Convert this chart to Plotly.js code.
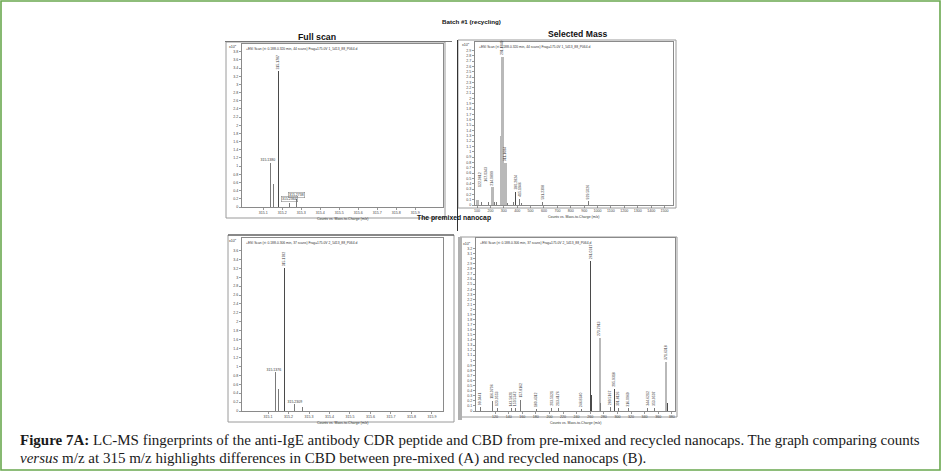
<!DOCTYPE html>
<html>
<head>
<meta charset="utf-8">
<script src="https://cdn.plot.ly/plotly-3.0.1.min.js"></script>
<style>
  html, body { margin: 0; padding: 0; background: #fff; }
  #chart { width: 941px; height: 471px; }
</style>
</head>
<body>
<div id="chart"></div>
<script>
// ---- Batch #1 (recycling): full scan around 315 m/z (counts x10^5) ----
const tlMz     = [315.1380, 315.1545, 315.1787, 315.2364, 315.2738];
const tlCounts = [1.08, 0.56, 3.32, 0.10, 0.20];
const tlLabel  = [1, 0, 1, 1, 1];

// ---- Batch #1 (recycling): selected mass spectrum (counts x10^5) ----
const trMz     = [105.0866, 122.0812, 135.0441, 167.0343, 184.1208, 214.0899, 229.1410, 244.0956,
                  279.0932, 291.1349, 303.1284, 311.1684, 328.1250, 373.2741, 390.2824, 415.1946,
                  432.2310, 591.2308, 929.5026];
const trCounts = [0.10, 0.30, 0.06, 0.40, 0.05, 0.33, 0.06, 0.05,
                  1.30, 2.77, 0.12, 0.78, 0.03, 0.06, 0.25, 0.12,
                  0.03, 0.06, 0.07];
const trLabel  = [0, 1, 0, 1, 0, 1, 0, 0, 0, 1, 0, 1, 0, 0, 1, 1, 0, 1, 1];

// ---- Premixed nanocap: full scan around 315 m/z (counts x10^5) ----
const blMz     = [315.1376, 315.1520, 315.1782, 315.2309, 315.2690];
const blCounts = [0.87, 0.49, 3.20, 0.15, 0.10];
const blLabel  = [1, 0, 1, 1, 0];

// ---- Premixed nanocap: selected mass spectrum (counts x10^5) ----
const brMz     = [99.0441, 116.0706, 123.0553, 143.5821, 150.5342, 157.8162, 180.4312, 203.5121,
                  213.4176, 246.8340, 261.0317, 262.4100, 273.7913, 275.2000, 289.5167, 295.9318,
                  301.8126, 316.0969, 344.6212, 353.9507, 371.6318, 373.0000];
const brCounts = [0.07, 0.20, 0.06, 0.05, 0.05, 0.22, 0.04, 0.06,
                  0.05, 0.04, 2.95, 0.32, 1.43, 0.15, 0.08, 0.43,
                  0.05, 0.05, 0.06, 0.06, 0.97, 0.15];
const brLabel  = [1, 1, 1, 1, 1, 1, 1, 1, 1, 1, 1, 0, 1, 0, 1, 1, 1, 1, 1, 1, 1, 0];

// axis ticks
const fullTicks = [315.1, 315.2, 315.3, 315.4, 315.5, 315.6, 315.7, 315.8, 315.9];
const selTicksTop = [100, 200, 300, 400, 500, 600, 700, 800, 900, 1000, 1100, 1200, 1300, 1400, 1500];
const selTicksBottom = [120, 140, 160, 180, 200, 220, 240, 260, 280, 300, 320, 340, 360, 380];

const scanTexts = [
  '+ESI Scan (rt: 0.188-0.320 min, 44 scans) Frag=175.0V 1_5413_88_P064.d',
  '+ESI Scan (rt: 0.188-0.320 min, 44 scans) Frag=175.0V 1_5413_88_P064.d',
  '+ESI Scan (rt: 0.188-0.306 min, 37 scans) Frag=175.0V 2_5413_88_P064.d',
  '+ESI Scan (rt: 0.188-0.306 min, 37 scans) Frag=175.0V 2_5413_88_P064.d'
];

// ---------- drawing helpers ----------
const W = 941, H = 471;
const px = v => v / W;
const py = v => 1 - v / H;
const SANS = 'Liberation Sans, Arial, sans-serif';
const tickFont = { family: SANS, size: 3.6, color: '#444' };

function range(a, b, step) {
  const out = [];
  for (let v = a; v <= b + 1e-9; v += step) out.push(Math.round(v * 1000) / 1000);
  return out;
}

function axisX(box, rng, ticks, fmt) {
  return {
    domain: [px(box[0]), px(box[1])], range: rng,
    tickmode: 'array', tickvals: ticks, ticktext: ticks.map(fmt),
    ticks: 'outside', ticklen: 2, tickwidth: 0.6, tickcolor: '#555',
    tickfont: tickFont, showgrid: false, zeroline: false,
    showline: true, mirror: true, linecolor: '#8a8a8a', linewidth: 1,
    fixedrange: true
  };
}
function axisY(box, rng, ticks) {
  return {
    domain: [py(box[3]), py(box[2])], range: rng,
    tickmode: 'array', tickvals: ticks, ticktext: ticks.map(v => String(v)),
    ticks: 'outside', ticklen: 2, tickwidth: 0.6, tickcolor: '#555',
    tickfont: tickFont, showgrid: false, zeroline: false,
    showline: true, mirror: true, linecolor: '#8a8a8a', linewidth: 1,
    fixedrange: true
  };
}

const traces = [];
const annotations = [];
const shapes = [];

// one spectrum panel: bars + peak labels + header texts
function spectrum(n, mz, counts, labelled, style) {
  const xa = n === 1 ? 'x' : 'x' + n;
  const ya = n === 1 ? 'y' : 'y' + n;
  const widths = mz.map((m, i) => style.wide.includes(i) ? style.wideW : style.thinW);
  const colors = mz.map((m, i) => style.wide.includes(i) ? '#b9b9b9' :
                                   (style.dark.includes(i) ? '#4a4a4a' : '#7a7a7a'));
  traces.push({
    type: 'bar', x: mz, y: counts, width: widths, xaxis: xa, yaxis: ya,
    marker: { color: colors, line: { width: 0 } }, hoverinfo: 'skip'
  });
  mz.forEach((m, i) => {
    if (!labelled[i]) return;
    const flat = style.flat.includes(i);
    const boxed = style.boxed.includes(i);
    annotations.push({
      xref: xa, yref: ya, x: m, y: counts[i], text: m.toFixed(4),
      showarrow: false, textangle: flat ? 0 : -90,
      xanchor: 'center', yanchor: 'bottom', yshift: flat ? 0.5 : 1.5,
      xshift: flat ? (style.flatShift[i] || 0) : 0,
      font: { family: SANS, size: 3.5, color: '#333' },
      bordercolor: boxed ? '#777' : 'rgba(0,0,0,0)', borderwidth: boxed ? 0.5 : 0,
      borderpad: 0.5
    });
  });
  // scan description line inside the plot frame
  annotations.push({
    xref: xa + ' domain', yref: ya + ' domain', x: 0.01, y: 0.995,
    xanchor: 'left', yanchor: 'top', showarrow: false, text: scanTexts[n - 1],
    font: { family: SANS, size: 3.3, color: '#333' }
  });
  // multiplier at the top of the count axis
  annotations.push({
    xref: xa + ' domain', yref: ya + ' domain', x: 0, y: style.multY,
    xanchor: 'right', yanchor: 'middle', xshift: -3, showarrow: false,
    text: 'x10<sup>5</sup>', font: { family: SANS, size: 3.6, color: '#333' }
  });
  // x-axis caption
  annotations.push({
    xref: xa + ' domain', yref: ya + ' domain', x: 0.5, y: 0,
    xanchor: 'center', yanchor: 'top', yshift: -8, showarrow: false,
    text: 'Counts vs. Mass-to-Charge (m/z)',
    font: { family: SANS, size: 3.5, color: '#333' }
  });
}

// panel boxes [left, right, top, bottom] in pixels
const tlBox = [242, 443, 44, 207];
const trBox = [475, 673, 42, 205];
const blBox = [242, 443, 238, 411];
const brBox = [476, 675, 238, 411];

const layout = {
  width: W, height: H, margin: { l: 0, r: 0, t: 0, b: 0 },
  paper_bgcolor: '#fff', plot_bgcolor: '#fff', showlegend: false,
  font: { family: SANS, color: '#222' }, bargap: 0,
  xaxis:  Object.assign(axisX(tlBox, [314.988, 316.046], fullTicks, v => v.toFixed(1)), { anchor: 'y' }),
  yaxis:  Object.assign(axisY(tlBox, [0, 3.99], range(0, 3.8, 0.2)), { anchor: 'x' }),
  xaxis2: Object.assign(axisX(trBox, [85, 1563], selTicksTop, v => String(v)), { anchor: 'y2' }),
  yaxis2: Object.assign(axisY(trBox, [0, 3.06], range(0, 2.9, 0.1)), { anchor: 'x2' }),
  xaxis3: Object.assign(axisX(blBox, [314.973, 315.954], fullTicks, v => v.toFixed(1)), { anchor: 'y3' }),
  yaxis3: Object.assign(axisY(blBox, [0, 3.88], range(0, 3.6, 0.2)), { anchor: 'x3' }),
  xaxis4: Object.assign(axisX(brBox, [92, 384.7], selTicksBottom, v => String(v)), { anchor: 'y4' }),
  yaxis4: Object.assign(axisY(brBox, [0, 3.41], range(0, 3.2, 0.1)), { anchor: 'x4' }),
  annotations: annotations, shapes: shapes
};

spectrum(1, tlMz, tlCounts, tlLabel,
  { wide: [], dark: [2], thinW: 0.0055, wideW: 0.0055, flat: [0, 3, 4], boxed: [3, 4],
    flatShift: { 0: -3 }, multY: 0.985 });
spectrum(2, trMz, trCounts, trLabel,
  { wide: [0, 5, 8, 9, 11], dark: [1, 3, 14], thinW: 7, wideW: 20, flat: [], boxed: [],
    flatShift: {}, multY: 0.985 });
spectrum(3, blMz, blCounts, blLabel,
  { wide: [], dark: [2], thinW: 0.0052, wideW: 0.0052, flat: [0, 3], boxed: [],
    flatShift: { 0: -2 } , multY: 0.985 });
spectrum(4, brMz, brCounts, brLabel,
  { wide: [12, 20], dark: [10, 11, 15, 21], thinW: 1.4, wideW: 3.2, flat: [], boxed: [],
    flatShift: {}, multY: 0.97 });

// outer panel frames
function frame(l, r, t, b, color, w) {
  shapes.push({ type: 'rect', xref: 'paper', yref: 'paper', x0: px(l), x1: px(r), y0: py(b), y1: py(t),
                line: { color: color, width: w }, fillcolor: 'rgba(0,0,0,0)', layer: 'below' });
}
function hline(x0, x1, y, color, w) {
  shapes.push({ type: 'line', xref: 'paper', yref: 'paper', x0: px(x0), x1: px(x1), y0: py(y), y1: py(y),
                line: { color: color, width: w } });
}
function vline(x, y0, y1, color, w) {
  shapes.push({ type: 'line', xref: 'paper', yref: 'paper', x0: px(x), x1: px(x), y0: py(y0), y1: py(y1),
                line: { color: color, width: w } });
}
frame(226, 445, 42, 218, '#9a9a9a', 1);
hline(225, 452, 41.5, '#777', 1);
frame(458, 676, 40, 208, '#9a9a9a', 1);
vline(457.5, 40, 231, '#333', 1);
frame(228, 454, 235, 422, '#9a9a9a', 1);
hline(228, 454, 235, '#444', 1);
frame(460, 677, 237, 417, '#9a9a9a', 1);
vline(460, 237, 420, '#b0b0b0', 4);

// green outline of the figure
shapes.push({ type: 'rect', xref: 'paper', yref: 'paper', x0: px(1), x1: px(940), y0: py(470), y1: py(1),
              line: { color: '#6aa84f', width: 1.6 }, fillcolor: 'rgba(0,0,0,0)' });

// titles
function label(text, x, y, size, extra) {
  annotations.push(Object.assign({
    xref: 'paper', yref: 'paper', x: px(x), y: py(y), xanchor: 'center', yanchor: 'middle',
    showarrow: false, text: text, font: { family: SANS, size: size, color: '#111' }
  }, extra || {}));
}
label('<b>Batch #1 (recycling)</b>', 471, 22, 6.2);
label('<b>Full scan</b>', 317, 37, 8.8);
label('<b>Selected Mass</b>', 577, 34, 8.6);
label('<b>The premixed nanocap</b>', 454, 217.5, 6.8);

// figure caption
const SERIF = 'Liberation Serif, DejaVu Serif, serif';
annotations.push({
  xref: 'paper', yref: 'paper', x: px(18), y: py(440), xanchor: 'left', yanchor: 'middle',
  showarrow: false, align: 'left',
  text: '<b>Figure 7A:</b> LC-MS fingerprints of the anti-IgE antibody CDR peptide and CBD from pre-mixed and recycled nanocaps. The graph comparing counts',
  font: { family: SERIF, size: 15, color: '#1a1a1a' }
});
annotations.push({
  xref: 'paper', yref: 'paper', x: px(18), y: py(458), xanchor: 'left', yanchor: 'middle',
  showarrow: false, align: 'left',
  text: '<i>versus</i> m/z at 315 m/z highlights differences in CBD between pre-mixed (A) and recycled nanocaps (B).',
  font: { family: SERIF, size: 15, color: '#1a1a1a' }
});

Plotly.newPlot('chart', traces, layout, { staticPlot: true, displayModeBar: false });
</script>
</body>
</html>
